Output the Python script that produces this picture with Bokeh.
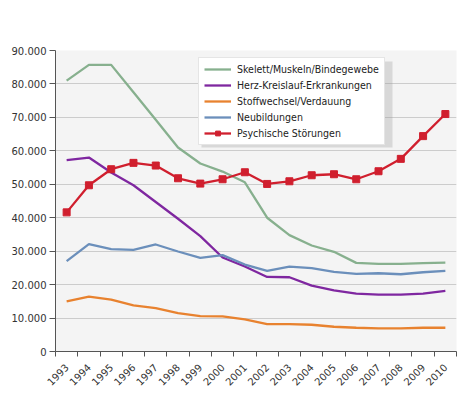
from bokeh.plotting import figure
from bokeh.models import Range1d, FixedTicker, Legend, LegendItem, BoxAnnotation
from bokeh.embed import file_html
from bokeh.resources import INLINE

years = list(range(1993, 2011))
skelett = [81.0, 85.7, 85.7, 77.5, 69.3, 61.0, 56.2, 53.8, 50.6, 40.0, 34.8, 31.7, 29.8, 26.5, 26.2, 26.2, 26.4, 26.6]
herz = [57.2, 58.0, 53.5, 49.7, 44.7, 39.7, 34.5, 28.1, 25.4, 22.3, 22.2, 19.7, 18.3, 17.3, 17.0, 17.0, 17.3, 18.1]
stoff = [15.0, 16.4, 15.5, 13.8, 13.0, 11.5, 10.6, 10.5, 9.6, 8.2, 8.2, 8.0, 7.4, 7.1, 6.9, 6.9, 7.1, 7.1]
neu = [27.0, 32.1, 30.6, 30.4, 32.0, 29.9, 28.0, 28.8, 26.0, 24.1, 25.4, 24.9, 23.8, 23.2, 23.4, 23.1, 23.7, 24.1]
psych = [41.6, 49.7, 54.5, 56.4, 55.6, 51.8, 50.2, 51.5, 53.6, 50.1, 50.9, 52.7, 53.0, 51.5, 53.9, 57.6, 64.4, 71.0]

labels = ["Skelett/Muskeln/Bindegewebe", "Herz-Kreislauf-Erkrankungen",
          "Stoffwechsel/Verdauung", "Neubildungen", "Psychische Störungen"]
y_ticks = [0, 10000, 20000, 30000, 40000, 50000, 60000, 70000, 80000, 90000]
y_tick_labels = ["0", "10.000", "20.000", "30.000", "40.000", "50.000",
                 "60.000", "70.000", "80.000", "90.000"]

colors = ["#87b08e", "#7f27a0", "#e8822f", "#6b8fbb", "#d01f2e"]

p = figure(width=457, height=392, output_backend="svg", toolbar_location=None,
           x_range=Range1d(years[0] - 0.5, years[-1] + 0.5),
           y_range=Range1d(0, 90000),
           min_border_left=55, min_border_top=50, min_border_bottom=41,
           min_border_right=1)
p.background_fill_color = "#f4f4f4"
p.border_fill_color = "white"
p.outline_line_color = None

series = [skelett, herz, stoff, neu, psych]
items = []
for i, (s, lab) in enumerate(zip(series, labels)):
    vals = [v * 1000 for v in s]
    r = p.line(years, vals, line_color=colors[i], line_width=2.3)
    rends = [r]
    if i == 4:
        m = p.scatter(years, vals, marker="square", size=7, fill_color=colors[i],
                      line_color=colors[i])
        rends.append(m)
    items.append(LegendItem(label=lab, renderers=rends))

# soft drop shadow behind the legend (screen units, relative to the frame)
shadow = BoxAnnotation(left=146, right=337, top=290, bottom=204,
                       left_units="screen", right_units="screen",
                       top_units="screen", bottom_units="screen",
                       fill_color="#999999", fill_alpha=0.3, line_color=None)
p.add_layout(shadow)

legend = Legend(items=items, location=(143, 206))
legend.label_text_font = "DejaVu Sans Condensed"
legend.label_text_font_size = "10.5px"
legend.label_text_color = "#222222"
legend.glyph_width = 27
legend.glyph_height = 12
legend.label_height = 12
legend.spacing = 4
legend.padding = 5
legend.margin = 0
legend.border_line_color = "#cccccc"
legend.border_line_width = 1
legend.background_fill_color = "white"
legend.background_fill_alpha = 1
legend.label_standoff = 6
p.add_layout(legend, "center")

# y axis
p.yaxis.ticker = FixedTicker(ticks=y_ticks)
p.yaxis.major_label_overrides = {t: l for t, l in zip(y_ticks, y_tick_labels)}
p.yaxis.major_label_text_font = "DejaVu Sans"
p.yaxis.major_label_text_font_size = "10px"
p.yaxis.major_label_text_color = "#333333"
p.yaxis.axis_line_color = "#555555"
p.yaxis.major_tick_line_color = "#555555"
p.yaxis.major_tick_out = 6
p.yaxis.major_tick_in = 0
p.yaxis.minor_tick_line_color = None
p.yaxis.major_label_standoff = 3

# x axis
p.xaxis.ticker = FixedTicker(ticks=years, minor_ticks=[y - 0.5 for y in years] + [years[-1] + 0.5])
p.xaxis.major_label_overrides = {y: str(y) for y in years}
p.xaxis.major_label_orientation = 0.785
p.xaxis.major_label_text_font = "DejaVu Sans"
p.xaxis.major_label_text_font_size = "10px"
p.xaxis.major_label_text_color = "#333333"
p.xaxis.axis_line_color = "#555555"
p.xaxis.major_tick_line_color = None
p.xaxis.minor_tick_line_color = "#555555"
p.xaxis.minor_tick_out = 5
p.xaxis.minor_tick_in = 0
p.xaxis.major_label_standoff = 8

p.xgrid.grid_line_color = None
p.ygrid.grid_line_color = "#cccccc"
p.ygrid.grid_line_width = 1

open("out.html", "w").write(file_html(p, INLINE))
